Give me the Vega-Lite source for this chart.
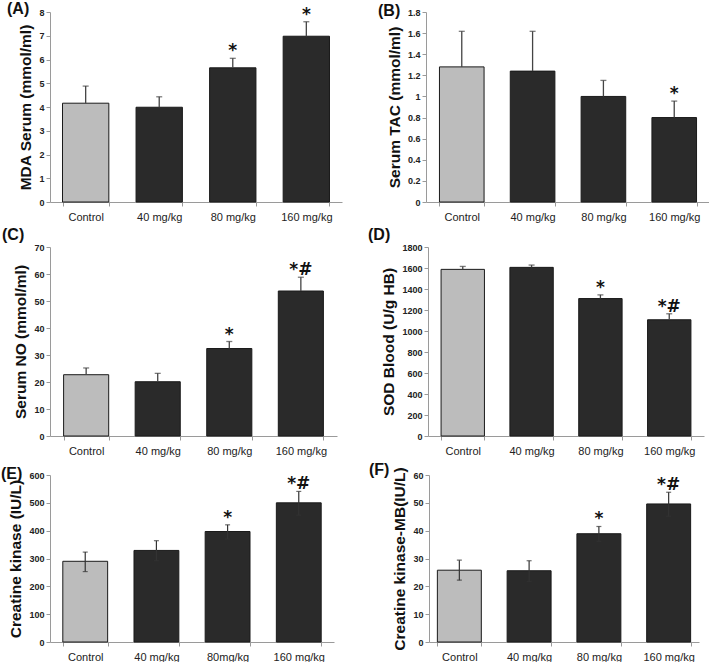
{
  "$schema": "https://vega.github.io/schema/vega-lite/v6.json",
  "padding": {"left": 1, "top": 0, "right": 0, "bottom": 0},
  "background": "white",
  "datasets": {
    "t": [
      {"panel": "A", "group": "Control", "mean": 4.16, "lower": 4.16, "upper": 4.88, "sig": ""},
      {"panel": "A", "group": "40 mg/kg", "mean": 3.99, "lower": 3.99, "upper": 4.43, "sig": ""},
      {"panel": "A", "group": "80 mg/kg", "mean": 5.65, "lower": 5.65, "upper": 6.05, "sig": "*"},
      {"panel": "A", "group": "160 mg/kg", "mean": 6.98, "lower": 6.98, "upper": 7.59, "sig": "*"},
      {"panel": "B", "group": "Control", "mean": 1.28, "lower": 1.28, "upper": 1.617, "sig": ""},
      {"panel": "B", "group": "40 mg/kg", "mean": 1.24, "lower": 1.24, "upper": 1.617, "sig": ""},
      {"panel": "B", "group": "80 mg/kg", "mean": 1.0, "lower": 1.0, "upper": 1.152, "sig": ""},
      {"panel": "B", "group": "160 mg/kg", "mean": 0.8, "lower": 0.8, "upper": 0.956, "sig": "*"},
      {"panel": "C", "group": "Control", "mean": 22.7, "lower": 22.7, "upper": 25.2, "sig": ""},
      {"panel": "C", "group": "40 mg/kg", "mean": 20.1, "lower": 20.1, "upper": 23.2, "sig": ""},
      {"panel": "C", "group": "80 mg/kg", "mean": 32.4, "lower": 32.4, "upper": 35.0, "sig": "*"},
      {"panel": "C", "group": "160 mg/kg", "mean": 53.7, "lower": 53.7, "upper": 58.8, "sig": "*#"},
      {"panel": "D", "group": "Control", "mean": 1587, "lower": 1587, "upper": 1615, "sig": ""},
      {"panel": "D", "group": "40 mg/kg", "mean": 1606, "lower": 1606, "upper": 1628, "sig": ""},
      {"panel": "D", "group": "80 mg/kg", "mean": 1309, "lower": 1309, "upper": 1344, "sig": "*"},
      {"panel": "D", "group": "160 mg/kg", "mean": 1107, "lower": 1107, "upper": 1164, "sig": "*#"},
      {"panel": "E", "group": "Control", "mean": 290, "lower": 253, "upper": 323, "sig": ""},
      {"panel": "E", "group": "40 mg/kg", "mean": 329, "lower": 292, "upper": 364, "sig": ""},
      {"panel": "E", "group": "80mg/kg", "mean": 397, "lower": 370, "upper": 421, "sig": "*"},
      {"panel": "E", "group": "160 mg/kg", "mean": 500, "lower": 456, "upper": 541, "sig": "*#"},
      {"panel": "F", "group": "Control", "mean": 25.8, "lower": 22.2, "upper": 29.4, "sig": ""},
      {"panel": "F", "group": "40 mg/kg", "mean": 25.6, "lower": 21.8, "upper": 29.2, "sig": ""},
      {"panel": "F", "group": "80 mg/kg", "mean": 38.9, "lower": 36.2, "upper": 41.5, "sig": "*"},
      {"panel": "F", "group": "160 mg/kg", "mean": 49.6, "lower": 45.2, "upper": 53.8, "sig": "*#"}
    ]
  },
  "spacing": 5,
  "vconcat": [
    {
      "spacing": 36,
      "hconcat": [
        {
          "width": 292, "height": 190,
          "title": {"text": "(A)", "dx": -43, "offset": -11},
          "data": {"name": "t"},
          "transform": [{"filter": "datum.panel === 'A'"}],
          "encoding": {"x": {"field": "group", "type": "nominal", "sort": null, "title": null, "scale": {"paddingInner": 0.37, "paddingOuter": 0.17}}},
          "layer": [
            {"mark": {"type": "bar", "stroke": "#1a1a1a", "strokeWidth": 1},
             "encoding": {"y": {"field": "mean", "type": "quantitative", "title": "MDA Serum (mmol/ml)", "scale": {"domain": [0, 8]}, "axis": {"values": [0, 1, 2, 3, 4, 5, 6, 7, 8], "tickCount": 30}},
               "color": {"condition": {"test": "datum.group === 'Control'", "value": "#bcbcbc"}, "value": "#2a2a2a"}}},
            {"mark": {"type": "rule", "color": "#444", "strokeWidth": 1.3}, "encoding": {"y": {"field": "lower", "type": "quantitative"}, "y2": {"field": "upper"}}},
            {"mark": {"type": "tick", "color": "#444", "size": 6, "thickness": 1.3}, "encoding": {"y": {"field": "upper", "type": "quantitative"}}},
            {"mark": {"type": "text", "font": "DejaVu Sans", "fontWeight": "bold", "fontSize": 17, "baseline": "alphabetic", "dy": -2, "color": "#111"}, "encoding": {"y": {"field": "upper", "type": "quantitative"}, "text": {"field": "sig"}}}
          ]
        },
        {
          "width": 284, "height": 190,
          "title": {"text": "(B)", "dx": -48, "offset": -11},
          "data": {"name": "t"},
          "transform": [{"filter": "datum.panel === 'B'"}],
          "encoding": {"x": {"field": "group", "type": "nominal", "sort": null, "title": null, "scale": {"paddingInner": 0.37, "paddingOuter": 0.19}}},
          "layer": [
            {"mark": {"type": "bar", "stroke": "#1a1a1a", "strokeWidth": 1},
             "encoding": {"y": {"field": "mean", "type": "quantitative", "title": "Serum TAC (mmol/ml)", "scale": {"domain": [0, 1.8]}, "axis": {"values": [0, 0.2, 0.4, 0.6, 0.8, 1, 1.2, 1.4, 1.6, 1.8], "tickCount": 30}},
               "color": {"condition": {"test": "datum.group === 'Control'", "value": "#bcbcbc"}, "value": "#2a2a2a"}}},
            {"mark": {"type": "rule", "color": "#444", "strokeWidth": 1.3}, "encoding": {"y": {"field": "lower", "type": "quantitative"}, "y2": {"field": "upper"}}},
            {"mark": {"type": "tick", "color": "#444", "size": 6, "thickness": 1.3}, "encoding": {"y": {"field": "upper", "type": "quantitative"}}},
            {"mark": {"type": "text", "font": "DejaVu Sans", "fontWeight": "bold", "fontSize": 17, "baseline": "alphabetic", "dy": -2, "color": "#111"}, "encoding": {"y": {"field": "upper", "type": "quantitative"}, "text": {"field": "sig"}}}
          ]
        }
      ]
    },
    {
      "spacing": 31,
      "hconcat": [
        {
          "width": 287, "height": 189,
          "title": {"text": "(C)", "dx": -48, "offset": 0},
          "data": {"name": "t"},
          "transform": [{"filter": "datum.panel === 'C'"}],
          "encoding": {"x": {"field": "group", "type": "nominal", "sort": null, "title": null, "scale": {"paddingInner": 0.37, "paddingOuter": 0.19}}},
          "layer": [
            {"mark": {"type": "bar", "stroke": "#1a1a1a", "strokeWidth": 1},
             "encoding": {"y": {"field": "mean", "type": "quantitative", "title": "Serum NO (mmol/ml)", "scale": {"domain": [0, 70]}, "axis": {"values": [0, 10, 20, 30, 40, 50, 60, 70], "tickCount": 30}},
               "color": {"condition": {"test": "datum.group === 'Control'", "value": "#bcbcbc"}, "value": "#2a2a2a"}}},
            {"mark": {"type": "rule", "color": "#444", "strokeWidth": 1.3}, "encoding": {"y": {"field": "lower", "type": "quantitative"}, "y2": {"field": "upper"}}},
            {"mark": {"type": "tick", "color": "#444", "size": 6, "thickness": 1.3}, "encoding": {"y": {"field": "upper", "type": "quantitative"}}},
            {"mark": {"type": "text", "font": "DejaVu Sans", "fontWeight": "bold", "fontSize": 17, "baseline": "alphabetic", "dy": -2, "color": "#111"}, "encoding": {"y": {"field": "upper", "type": "quantitative"}, "text": {"field": "sig"}}}
          ]
        },
        {
          "width": 276, "height": 189,
          "title": {"text": "(D)", "dx": -60, "offset": 0},
          "data": {"name": "t"},
          "transform": [{"filter": "datum.panel === 'D'"}],
          "encoding": {"x": {"field": "group", "type": "nominal", "sort": null, "title": null, "scale": {"paddingInner": 0.37, "paddingOuter": 0.19}}},
          "layer": [
            {"mark": {"type": "bar", "stroke": "#1a1a1a", "strokeWidth": 1},
             "encoding": {"y": {"field": "mean", "type": "quantitative", "title": "SOD Blood (U/g HB)", "scale": {"domain": [0, 1800]}, "axis": {"values": [0, 200, 400, 600, 800, 1000, 1200, 1400, 1600, 1800], "tickCount": 30}},
               "color": {"condition": {"test": "datum.group === 'Control'", "value": "#bcbcbc"}, "value": "#2a2a2a"}}},
            {"mark": {"type": "rule", "color": "#444", "strokeWidth": 1.3}, "encoding": {"y": {"field": "lower", "type": "quantitative"}, "y2": {"field": "upper"}}},
            {"mark": {"type": "tick", "color": "#444", "size": 6, "thickness": 1.3}, "encoding": {"y": {"field": "upper", "type": "quantitative"}}},
            {"mark": {"type": "text", "font": "DejaVu Sans", "fontWeight": "bold", "fontSize": 17, "baseline": "alphabetic", "dy": -2, "color": "#111"}, "encoding": {"y": {"field": "upper", "type": "quantitative"}, "text": {"field": "sig"}}}
          ]
        }
      ]
    },
    {
      "spacing": 35,
      "hconcat": [
        {
          "width": 284, "height": 167,
          "title": {"text": "(E)", "dx": -49, "offset": -11},
          "data": {"name": "t"},
          "transform": [{"filter": "datum.panel === 'E'"}],
          "encoding": {"x": {"field": "group", "type": "nominal", "sort": null, "title": null, "scale": {"paddingInner": 0.37, "paddingOuter": 0.18}}},
          "layer": [
            {"mark": {"type": "bar", "stroke": "#1a1a1a", "strokeWidth": 1},
             "encoding": {"y": {"field": "mean", "type": "quantitative", "title": "Creatine kinase (IU/L)", "scale": {"domain": [0, 600]}, "axis": {"values": [0, 100, 200, 300, 400, 500, 600], "tickCount": 30}},
               "color": {"condition": {"test": "datum.group === 'Control'", "value": "#bcbcbc"}, "value": "#2a2a2a"}}},
            {"mark": {"type": "rule", "color": "#333", "strokeWidth": 1.2}, "encoding": {"y": {"field": "lower", "type": "quantitative"}, "y2": {"field": "upper"}}},
            {"mark": {"type": "tick", "color": "#333", "size": 5, "thickness": 1.2}, "encoding": {"y": {"field": "upper", "type": "quantitative"}}},
            {"mark": {"type": "tick", "color": "#333", "size": 5, "thickness": 1.2}, "encoding": {"y": {"field": "lower", "type": "quantitative"}}},
            {"mark": {"type": "text", "font": "DejaVu Sans", "fontWeight": "bold", "fontSize": 17, "baseline": "alphabetic", "dy": -2, "color": "#111"}, "encoding": {"y": {"field": "upper", "type": "quantitative"}, "text": {"field": "sig"}}}
          ]
        },
        {
          "width": 270, "height": 167,
          "title": {"text": "(F)", "dx": -60, "offset": -11},
          "data": {"name": "t"},
          "transform": [{"filter": "datum.panel === 'F'"}],
          "encoding": {"x": {"field": "group", "type": "nominal", "sort": null, "title": null, "scale": {"paddingInner": 0.37, "paddingOuter": 0.12}}},
          "layer": [
            {"mark": {"type": "bar", "stroke": "#1a1a1a", "strokeWidth": 1},
             "encoding": {"y": {"field": "mean", "type": "quantitative", "title": "Creatine kinase-MB(IU/L)", "scale": {"domain": [0, 60]}, "axis": {"values": [0, 10, 20, 30, 40, 50, 60], "tickCount": 30}},
               "color": {"condition": {"test": "datum.group === 'Control'", "value": "#bcbcbc"}, "value": "#2a2a2a"}}},
            {"mark": {"type": "rule", "color": "#333", "strokeWidth": 1.2}, "encoding": {"y": {"field": "lower", "type": "quantitative"}, "y2": {"field": "upper"}}},
            {"mark": {"type": "tick", "color": "#333", "size": 5, "thickness": 1.2}, "encoding": {"y": {"field": "upper", "type": "quantitative"}}},
            {"mark": {"type": "tick", "color": "#333", "size": 5, "thickness": 1.2}, "encoding": {"y": {"field": "lower", "type": "quantitative"}}},
            {"mark": {"type": "text", "font": "DejaVu Sans", "fontWeight": "bold", "fontSize": 17, "baseline": "alphabetic", "dy": -2, "color": "#111"}, "encoding": {"y": {"field": "upper", "type": "quantitative"}, "text": {"field": "sig"}}}
          ]
        }
      ]
    }
  ],
  "config": {
    "view": {"stroke": null},
    "axis": {"domainColor": "#9a9a9a", "tickColor": "#9a9a9a", "grid": false, "labelColor": "#222", "titleColor": "#111"},
    "axisX": {"labelFont": "Liberation Sans", "labelFontSize": 11, "labelAngle": 0, "tickBand": "extent", "tickSize": 4, "labelPadding": 5},
    "axisY": {"labelFont": "Liberation Sans", "labelFontSize": 9, "labelFontWeight": "bold", "labelOverlap": false, "labelExpr": "format(datum.value, '~g')", "tickSize": 4, "titleFont": "Liberation Sans", "titleFontSize": 15.5, "titleFontWeight": "bold", "titlePadding": 5},
    "title": {"font": "Liberation Sans", "fontSize": 16, "fontWeight": "bold", "anchor": "start", "frame": "group", "color": "#111", "baseline": "alphabetic"}
  }
}
